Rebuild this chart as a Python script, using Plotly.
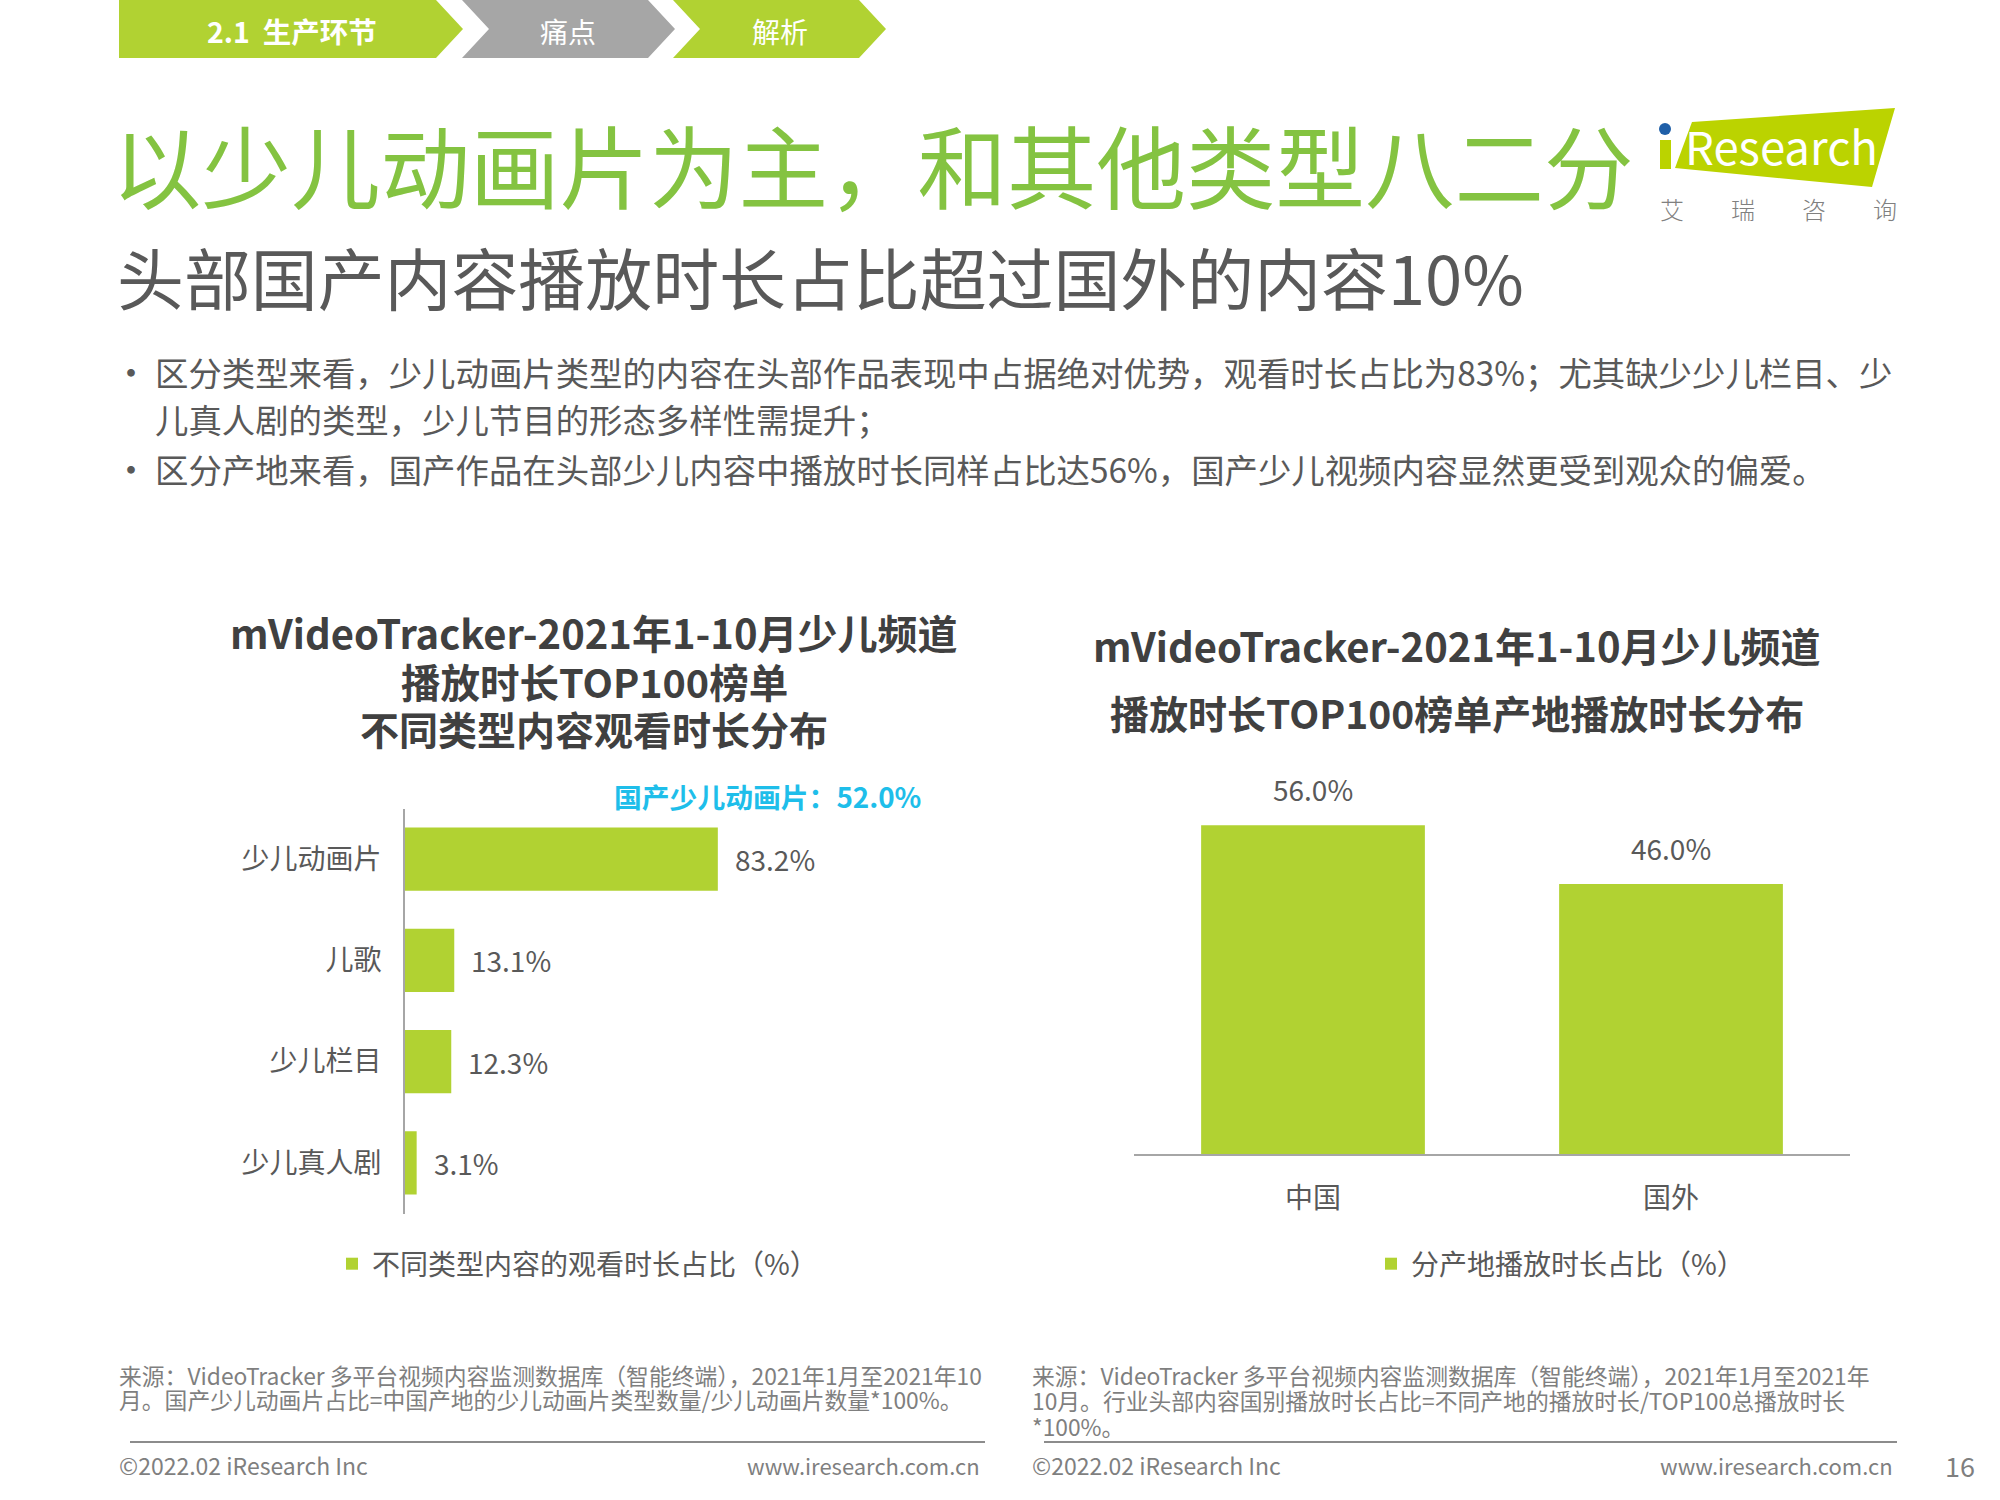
import plotly.graph_objects as go

W, H = 2000, 1500
CJK = "Noto Sans CJK SC"
GREEN = "#B1D232"
TITLE_GREEN = "#84C341"
DARK = "#595959"
TITLE_DARK = "#404040"
GREY = "#7F7F7F"

# chart data
type_names = ["少儿动画片", "儿歌", "少儿栏目", "少儿真人剧"]
type_share = [83.2, 13.1, 12.3, 3.1]
origin_names = ["中国", "国外"]
origin_share = [56.0, 46.0]

type_legend = "不同类型内容的观看时长占比（%）"
origin_legend = "分产地播放时长占比（%）"

bullet_lines = [
    "区分类型来看，少儿动画片类型的内容在头部作品表现中占据绝对优势，观看时长占比为83%；尤其缺少少儿栏目、少",
    "儿真人剧的类型，少儿节目的形态多样性需提升；",
    "区分产地来看，国产作品在头部少儿内容中播放时长同样占比达56%，国产少儿视频内容显然更受到观众的偏爱。",
]
left_title = ["mVideoTracker-2021年1-10月少儿频道", "播放时长TOP100榜单", "不同类型内容观看时长分布"]
right_title = ["mVideoTracker-2021年1-10月少儿频道", "播放时长TOP100榜单产地播放时长分布"]
left_source = [
    "来源：VideoTracker 多平台视频内容监测数据库（智能终端），2021年1月至2021年10",
    "月。国产少儿动画片占比=中国产地的少儿动画片类型数量/少儿动画片数量*100%。",
]
right_source = [
    "来源：VideoTracker 多平台视频内容监测数据库（智能终端），2021年1月至2021年",
    "10月。行业头部内容国别播放时长占比=不同产地的播放时长/TOP100总播放时长",
    "*100%。",
]


def px(x):
    return x / W


def py(y):
    return 1 - y / H


def label(text, x, y, size, color=DARK, anchor="left", bold=False, weight=None):
    return dict(
        text=text, x=px(x), y=py(y), xref="paper", yref="paper", showarrow=False,
        xanchor=anchor, yanchor="middle", borderpad=0,
        font=dict(family=CJK, size=size, color=color, weight=weight or (700 if bold else 400)),
    )


def polygon(points, color):
    path = "M" + "L".join(f"{px(x)},{py(y)}" for x, y in points) + "Z"
    return dict(type="path", xref="paper", yref="paper", path=path,
                fillcolor=color, line=dict(width=0), layer="above")


def rule(x0, x1, y):
    return dict(type="line", xref="paper", yref="paper", x0=px(x0), x1=px(x1), y0=py(y), y1=py(y),
                line=dict(color="#8C8C8C", width=2))


fig = go.Figure()

fig.add_trace(go.Bar(
    x=type_share, y=type_names, orientation="h", name=type_legend, xaxis="x", yaxis="y",
    marker=dict(color=GREEN, line=dict(width=0)), legend="legend", showlegend=True,
))
fig.add_trace(go.Bar(
    x=origin_names, y=origin_share, name=origin_legend, xaxis="x2", yaxis="y2",
    marker=dict(color=GREEN, line=dict(width=0)), legend="legend2", showlegend=True,
))

annotations = [
    label("<b>2.1  生产环节</b>", 292, 31, 28.5, "white", "center"),
    label("痛点", 568, 31, 28, "white", "center"),
    label("解析", 780, 31, 28, "white", "center"),
    label("以少儿动画片为主，和其他类型八二分", 111, 163, 89.5, TITLE_GREEN),
    label("头部国产内容播放时长占比超过国外的内容10%", 116, 275, 66.9, DARK),
    label("•", 112, 371, 36),
    label("•", 112, 468, 36),
    label(bullet_lines[0], 154, 371.5, 33.4),
    label(bullet_lines[1], 154, 418.5, 33.4),
    label(bullet_lines[2], 154, 468.5, 33.4),
    label("国产少儿动画片：52.0%", 613, 796, 27.8, "#1EBEEA", bold=True),
    label("Research", 1781, 145.5, 45.5, "white", "center"),
    label("©2022.02 iResearch Inc", 118, 1465, 23, GREY),
    label("www.iresearch.com.cn", 981, 1465, 22, GREY, "right"),
    label("©2022.02 iResearch Inc", 1031, 1465, 23, GREY),
    label("www.iresearch.com.cn", 1894, 1465, 22, GREY, "right"),
    label("16", 1976, 1465, 27, GREY, "right"),
]
for x, ch in zip([1672, 1743, 1814, 1885], "艾瑞咨询"):
    annotations.append(label(ch, x, 208, 24, "#808080", "center", weight=300))
for y, line, size in zip([632, 681, 728], left_title, [40, 39.5, 39]):
    annotations.append(label(line, 594, y, size, TITLE_DARK, "center", bold=True))
for y, line, size in zip([645, 712], right_title, [40, 39]):
    annotations.append(label(line, 1457, y, size, TITLE_DARK, "center", bold=True))
for y, line in zip([1375, 1399], left_source):
    annotations.append(label(line, 118, y, 22.8, GREY))
for y, line in zip([1375, 1400, 1426], right_source):
    annotations.append(label(line, 1031, y, 22.8, GREY))

# value labels sit on the data, offset from the bar ends
for name, value in zip(type_names, type_share):
    annotations.append(dict(
        text=f"{value:.1f}%", x=value, y=name, xref="x", yref="y", showarrow=False,
        xanchor="left", yanchor="middle", xshift=15, font=dict(family=CJK, size=28, color=DARK),
    ))
for name, value in zip(origin_names, origin_share):
    annotations.append(dict(
        text=f"{value:.1f}%", x=name, y=value, xref="x2", yref="y2", showarrow=False,
        xanchor="center", yanchor="bottom", yshift=14, font=dict(family=CJK, size=28, color=DARK),
    ))

shapes = [
    polygon([(119, 0), (436, 0), (463, 29), (436, 58), (119, 58)], GREEN),
    polygon([(462, 0), (648, 0), (675, 29), (648, 58), (462, 58), (489, 29)], "#A6A6A6"),
    polygon([(673, 0), (859, 0), (886, 29), (859, 58), (673, 58), (700, 29)], GREEN),
    polygon([(1692, 122), (1895, 108), (1872, 187), (1675, 168)], "#BBD300"),
    polygon([(1660, 140), (1671, 140), (1671, 169), (1660, 169)], "#BBD300"),
    dict(type="circle", xref="paper", yref="paper", x0=px(1659), x1=px(1671), y0=py(135), y1=py(123),
         fillcolor="#1F5FA8", line=dict(width=0)),
    rule(130, 985, 1442),
    rule(1044, 1897, 1442),
]

fig.update_layout(
    width=W, height=H, margin=dict(l=0, r=0, t=0, b=0),
    paper_bgcolor="white", plot_bgcolor="white",
    font=dict(family=CJK, color=DARK, size=28),
    bargap=0.375,
    xaxis=dict(domain=[px(405), px(781)], range=[0, 100], visible=False, fixedrange=True),
    yaxis=dict(
        domain=[py(1213.5), py(808.5)], range=[3.5, -0.5], type="category",
        showline=True, linecolor="#A6A6A6", linewidth=2, ticks="", showgrid=False,
        tickfont=dict(family=CJK, size=28, color=DARK), ticklabelstandoff=16, anchor="x",
    ),
    xaxis2=dict(
        domain=[px(1134), px(1850)], type="category", anchor="y2",
        showline=True, linecolor="#A6A6A6", linewidth=2, ticks="", showgrid=False,
        tickfont=dict(family=CJK, size=28, color=DARK), ticklabelstandoff=18,
    ),
    yaxis2=dict(domain=[py(1154), py(743)], range=[0, 70], visible=False, anchor="x2"),
    legend=dict(
        x=px(332), y=py(1264), xanchor="left", yanchor="middle", orientation="h",
        font=dict(family=CJK, size=28, color=DARK), bgcolor="rgba(0,0,0,0)",
    ),
    legend2=dict(
        x=px(1371), y=py(1264), xanchor="left", yanchor="middle", orientation="h",
        font=dict(family=CJK, size=28, color=DARK), bgcolor="rgba(0,0,0,0)",
    ),
    annotations=annotations,
    shapes=shapes,
)

fig.write_html("out.html", config={"displayModeBar": False},
               post_script="document.body.style.margin = '0';")
